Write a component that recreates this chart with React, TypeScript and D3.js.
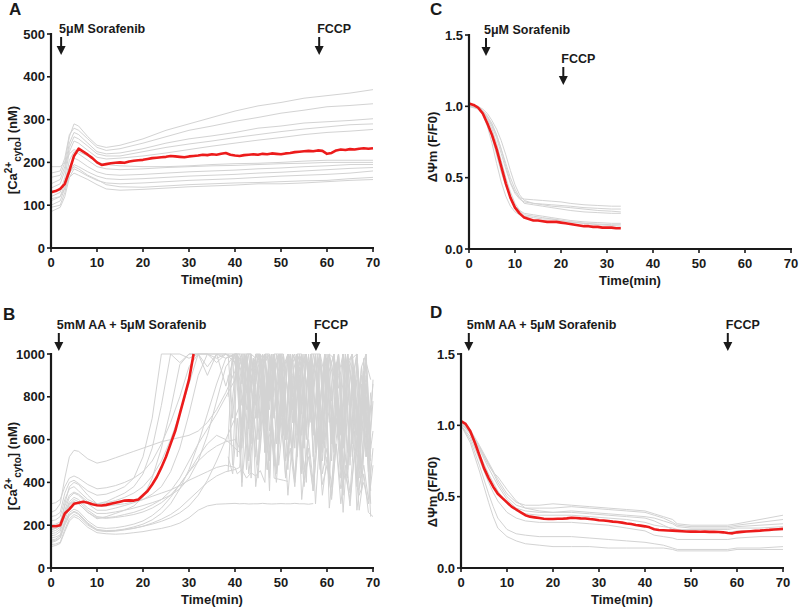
import * as d3 from 'd3';
import React from 'react';

const FONT = '"Liberation Sans", Arial, Helvetica, sans-serif';
const GRAY = '#d3d3d3';
const RED = '#ec1b1b';
const INK = '#1a1a1a';

// ---------- Panel A : cytosolic Ca2+, 5uM sorafenib ----------
const minutesA = d3.range(0, 71);
const meanA = [
  130, 133, 138, 150, 180, 215, 232, 225, 218, 210, 200, 194, 196, 198, 199, 200, 199, 202, 204, 205,
  206, 208, 210, 211, 212, 213, 215, 214, 213, 212, 214, 215, 216, 218, 217, 219, 218, 220, 222, 218,
  216, 215, 217, 218, 219, 218, 220, 219, 221, 220, 219, 221, 222, 224, 225, 226, 227, 226, 228, 227,
  220, 222, 228, 230, 229, 231, 230, 232, 233, 232, 233,
];
const timesA = [0, 2, 3, 4, 5, 6, 8, 10, 12, 15, 20, 25, 30, 35, 40, 45, 50, 55, 60, 65, 70];
const cellsA = [
  [165, 170, 200, 260, 290, 285, 260, 240, 235, 240, 255, 275, 290, 305, 320, 332, 340, 350, 356, 362, 370],
  [175, 180, 210, 265, 280, 275, 255, 235, 228, 232, 245, 260, 275, 285, 296, 305, 315, 322, 330, 333, 337],
  [150, 160, 190, 245, 270, 265, 245, 225, 220, 222, 232, 245, 255, 262, 270, 280, 285, 292, 295, 298, 302],
  [140, 150, 180, 235, 260, 255, 238, 220, 215, 215, 225, 235, 243, 250, 258, 265, 272, 278, 283, 288, 290],
  [120, 130, 165, 225, 250, 245, 228, 212, 208, 210, 215, 222, 230, 238, 245, 252, 258, 265, 270, 273, 277],
  [190, 190, 200, 220, 230, 225, 215, 200, 195, 192, 190, 190, 192, 195, 197, 198, 200, 203, 205, 205, 205],
  [110, 120, 150, 205, 225, 220, 205, 190, 185, 183, 185, 188, 190, 192, 193, 195, 197, 198, 200, 200, 200],
  [100, 110, 140, 190, 210, 205, 190, 178, 172, 170, 172, 175, 178, 180, 182, 185, 187, 190, 192, 195, 195],
  [95, 100, 130, 175, 195, 190, 178, 168, 162, 160, 162, 165, 168, 170, 172, 175, 177, 180, 183, 186, 188],
  [85, 95, 120, 165, 185, 180, 168, 158, 152, 150, 152, 155, 158, 160, 162, 165, 168, 170, 172, 175, 180],
  [130, 135, 150, 175, 190, 185, 170, 160, 148, 143, 142, 145, 148, 150, 152, 153, 155, 157, 158, 162, 165],
  [115, 120, 140, 165, 175, 170, 160, 148, 138, 135, 137, 140, 143, 145, 147, 150, 150, 152, 155, 158, 160],
];

// ---------- Panel B : cytosolic Ca2+, 5mM AA + 5uM sorafenib ----------
const minutesB = d3.range(0, 32);
const meanB = [
  195, 195, 200, 255, 275, 300, 305, 310, 305, 298, 293, 292, 295, 300, 305, 310, 315, 316, 315, 320,
  340, 360, 390, 425, 470, 520, 580, 640, 720, 800, 880, 1000,
];
const timesB = [
  0, 1, 2, 3, 4, 5, 6, 8, 10, 12, 14, 16, 18, 20, 22, 24, 26, 28, 30, 32, 34, 36, 38, 40,
  41, 42, 43, 44, 45, 46, 47, 48, 49, 50, 51, 52, 53, 54, 55, 56, 57, 58, 59, 60, 61, 62, 63, 64, 65, 66, 67, 68, 69, 70,
];
const timesBHalf = [
  0, 1, 2, 3, 4, 5, 6, 8, 10, 12, 14, 16, 18, 20, 22, 24, 26, 28, 30, 32, 34, 36, 38, 40,
  40.5, 41.5, 42.5, 43.5, 44.5, 45.5, 46.5, 47.5, 48.5, 49.5, 50.5, 51.5, 52.5, 53.5, 54.5, 55.5, 56.5, 57.5, 58.5, 59.5,
  60.5, 61.5, 62.5, 63.5, 64.5, 65.5, 66.5, 67.5, 68.5, 69.5,
];
const cellsB = [
  [180, 185, 200, 300, 380, 400, 390, 340, 300, 310, 330, 350, 380, 440, 560, 760, 1000, 1000, 980, 1000, 900, 1000, 850, 1000,
    700, 1000, 650, 980, 600, 1000, 720, 950, 580, 1000, 640, 990, 560, 1000, 700, 960, 520, 1000, 600, 980, 500, 940, 620, 1000, 480, 900, 560, 980, 450, 880],
  [130, 135, 150, 220, 290, 310, 300, 260, 230, 240, 255, 270, 290, 330, 420, 560, 740, 950, 1000, 1000, 1000, 960, 1000, 1000,
    1000, 620, 1000, 580, 940, 1000, 680, 1000, 540, 900, 1000, 600, 1000, 520, 960, 1000, 700, 1000, 480, 1000, 880, 560, 1000, 460, 940, 1000, 540, 820, 1000, 420],
  [220, 225, 240, 320, 370, 380, 360, 320, 300, 305, 315, 330, 350, 380, 430, 500, 600, 720, 860, 1000, 1000, 980, 1000, 960,
    820, 1000, 760, 980, 700, 1000, 640, 1000, 720, 960, 600, 1000, 680, 940, 560, 1000, 620, 900, 540, 980, 600, 880, 500, 960, 520, 840, 460, 900, 500, 780],
  [260, 270, 300, 420, 520, 550, 545, 510, 490, 500, 515, 530, 545, 560, 575, 590, 600, 610, 620, 640, 680, 740, 820, 920,
    1000, 760, 1000, 700, 980, 820, 1000, 640, 960, 1000, 720, 1000, 680, 900, 1000, 620, 980, 740, 1000, 560, 920, 1000, 640, 880, 1000, 580, 960, 700, 900, 620],
  [100, 105, 115, 170, 220, 240, 230, 190, 165, 160, 158, 160, 165, 170, 178, 185, 195, 210, 235, 270, 290, 298, 300, 302,
    300, 301, 299, 300, 300, 302, 300, 299, 300, 301, 300, 300, 302, 300, 300, 298, 301],
  [150, 155, 170, 240, 300, 320, 310, 270, 240, 235, 240, 250, 260, 275, 295, 320, 360, 420, 500, 580, 650, 720, 800, 880,
    960, 1000, 820, 1000, 700, 960, 1000, 780, 1000, 660, 920, 1000, 740, 1000, 620, 980, 820, 1000, 580, 940, 1000, 660, 900, 1000, 540, 880, 1000, 600, 860, 520],
  [120, 125, 140, 210, 260, 275, 265, 220, 190, 185, 188, 195, 205, 220, 245, 280, 330, 390, 450, 500, 540, 570, 590, 600,
    560, 880, 520, 760, 480, 920, 540, 700, 450, 860, 500, 640, 420, 800, 460, 600, 400, 760, 440, 560, 380, 700, 420, 520, 350, 640, 380, 480, 320, 560],
  [200, 205, 215, 290, 340, 355, 345, 310, 290, 290, 295, 300, 310, 320, 335, 350, 365, 385, 410, 430, 450, 470, 480, 470,
    440, 460, 420, 445, 430, 455, 400, 1000, 420, 415, 410, 405],
  [170, 175, 190, 260, 310, 330, 320, 280, 255, 255, 262, 270, 280, 292, 305, 320, 340, 370, 420, 500, 620, 780, 940, 1000,
    1000, 880, 1000, 760, 1000, 940, 680, 1000, 820, 1000, 600, 960, 1000, 740, 1000, 660, 1000, 900, 580, 1000, 780, 960, 520, 1000, 700, 940, 480, 920, 640, 860],
  [240, 245, 260, 350, 400, 410, 395, 360, 340, 345, 360, 380, 420, 520, 700, 1000, 1000, 960, 1000, 1000, 940, 1000, 1000, 980,
    1000, 900, 1000, 1000, 860, 1000, 960, 1000, 880, 1000, 1000, 820, 1000, 940, 1000, 860, 1000, 1000, 780, 1000, 920, 1000, 840, 1000, 760, 980, 1000, 700, 960, 880],
  [110, 112, 120, 180, 230, 250, 240, 200, 175, 170, 172, 178, 185, 195, 210, 228, 250, 280, 320, 360, 400, 430, 450, 460,
    470, 700, 440, 640, 420, 760, 460, 600, 400, 700, 430, 560, 380, 660, 410, 520, 360, 620, 390, 480, 340, 580, 370, 440, 320, 540, 340, 400, 300, 480],
  [160, 165, 180, 270, 330, 350, 340, 300, 270, 270, 280, 292, 305, 320, 345, 380, 450, 560, 720, 900, 1000, 1000, 1000, 960,
    1000, 1000, 740, 1000, 980, 860, 1000, 1000, 700, 1000, 940, 1000, 800, 1000, 1000, 660, 1000, 900, 1000, 760, 1000, 980, 620, 1000, 880, 1000, 720, 940, 1000, 600],
  [140, 145, 155, 210, 250, 265, 255, 210, 180, 175, 176, 180, 186, 195, 205, 218, 235, 258, 290, 340, 410, 500, 600, 700,
    760, 820, 880, 960, 1000, 900, 1000, 760, 1000, 840, 620, 1000, 700, 900, 560, 960, 640, 820, 500, 900, 580, 760, 460, 840, 520, 700, 420, 780, 480, 640],
  [300, 305, 320, 380, 420, 430, 420, 390, 370, 375, 385, 400, 420, 450, 500, 580, 680, 800, 940, 1000, 1000, 1000, 980, 1000,
    900, 1000, 1000, 820, 1000, 960, 1000, 740, 1000, 1000, 880, 1000, 680, 1000, 940, 1000, 800, 1000, 1000, 720, 1000, 900, 1000, 640, 1000, 860, 1000, 700, 980, 560],
  [180, 185, 195, 260, 300, 310, 300, 260, 235, 232, 236, 242, 250, 262, 280, 305, 340, 390, 450, 520, 580, 620, 600, 560,
    540, 800, 500, 720, 480, 840, 460, 680, 440, 760, 420, 620, 400, 700, 380, 560, 360, 640, 340, 520, 320, 580, 300, 480, 290, 540, 270, 440, 260, 240],
  [125, 130, 140, 200, 245, 262, 250, 205, 178, 172, 175, 182, 192, 205, 225, 255, 300, 370, 460, 580, 720, 860, 980, 1000,
    1000, 940, 1000, 840, 1000, 1000, 720, 1000, 900, 1000, 640, 1000, 960, 1000, 780, 1000, 700, 920, 1000, 600, 1000, 840, 1000, 560, 960, 1000, 680, 900, 520, 820],
];
// cells whose recordings only appear from ~38 min (already saturated)
const timesBLate = [
  38.5, 39.5, 40.5, 41.5, 42.5, 43.5, 44.5, 45.5, 46.5, 47.5, 48.5, 49.5, 50.5, 51.5, 52.5, 53.5,
  54.5, 55.5, 56.5, 57.5, 58.5, 59.5, 60.5, 61.5, 62.5, 63.5, 64.5, 65.5, 66.5, 67.5, 68.5, 69.5,
];
const lateCellsB = [
  [600, 1000, 520, 980, 460, 1000, 700, 940, 540, 1000, 480, 900, 620, 1000, 560, 960, 440, 1000, 680, 920, 500, 1000, 420, 880, 600, 1000, 460, 940, 380, 860, 520, 760],
  [900, 480, 1000, 560, 1000, 420, 960, 640, 1000, 500, 1000, 580, 880, 460, 1000, 620, 1000, 400, 940, 540, 1000, 480, 860, 600, 1000, 380, 920, 520, 980, 440, 800, 360],
  [450, 800, 1000, 380, 1000, 720, 520, 1000, 860, 420, 1000, 640, 980, 500, 900, 1000, 460, 840, 1000, 560, 760, 1000, 400, 960, 700, 340, 1000, 620, 880, 360, 720, 300],
  [1000, 700, 1000, 860, 1000, 640, 1000, 940, 780, 1000, 700, 1000, 880, 640, 1000, 960, 720, 1000, 820, 600, 1000, 900, 680, 1000, 760, 560, 980, 840, 620, 940, 700, 500],
  [520, 440, 700, 400, 620, 900, 380, 560, 820, 360, 1000, 480, 700, 340, 600, 880, 320, 540, 760, 300, 640, 900, 280, 500, 700, 260, 580, 820, 270, 460, 640, 240],
  [800, 1000, 900, 620, 1000, 1000, 760, 1000, 540, 900, 1000, 680, 1000, 820, 500, 1000, 940, 600, 1000, 720, 460, 980, 860, 540, 1000, 640, 420, 900, 760, 480, 860, 560],
];

// ---------- Panel C : mito potential, 5uM sorafenib ----------
const minutesC = d3.range(0, 34);
const meanC = [
  1.02, 1.01, 0.99, 0.95, 0.88, 0.8, 0.7, 0.58, 0.46, 0.36, 0.29, 0.25, 0.22, 0.21, 0.2, 0.2, 0.195,
  0.19, 0.19, 0.19, 0.185, 0.18, 0.175, 0.17, 0.165, 0.16, 0.16, 0.155, 0.155, 0.15, 0.15, 0.15, 0.145, 0.145,
];
const timesC = [0, 2, 3, 4, 5, 6, 7, 8, 9, 10, 11, 12, 14, 16, 18, 20, 22, 25, 28, 31, 33];
const cellsC = [
  [1.0, 1.0, 0.97, 0.93, 0.88, 0.8, 0.7, 0.58, 0.47, 0.4, 0.36, 0.35, 0.345, 0.34, 0.335, 0.33, 0.32, 0.31, 0.305, 0.3, 0.3],
  [1.0, 0.99, 0.96, 0.92, 0.86, 0.78, 0.67, 0.56, 0.46, 0.39, 0.35, 0.33, 0.32, 0.315, 0.31, 0.305, 0.3, 0.29, 0.285, 0.28, 0.28],
  [1.01, 1.0, 0.97, 0.93, 0.87, 0.8, 0.7, 0.6, 0.5, 0.42, 0.36, 0.32, 0.31, 0.3, 0.29, 0.28, 0.27, 0.26, 0.255, 0.25, 0.25],
  [1.0, 0.99, 0.95, 0.88, 0.78, 0.66, 0.54, 0.44, 0.36, 0.3, 0.27, 0.25, 0.24, 0.23, 0.22, 0.21, 0.2, 0.19, 0.185, 0.18, 0.18],
  [1.0, 0.98, 0.94, 0.86, 0.74, 0.6, 0.47, 0.37, 0.3, 0.26, 0.24, 0.23, 0.22, 0.21, 0.21, 0.2, 0.19, 0.18, 0.175, 0.17, 0.17],
  [1.0, 0.99, 0.96, 0.91, 0.84, 0.74, 0.62, 0.5, 0.4, 0.32, 0.27, 0.24, 0.23, 0.22, 0.21, 0.2, 0.19, 0.18, 0.17, 0.165, 0.16],
  [1.02, 1.0, 0.98, 0.95, 0.9, 0.84, 0.76, 0.66, 0.55, 0.45, 0.38, 0.34, 0.32, 0.31, 0.3, 0.295, 0.29, 0.28, 0.27, 0.265, 0.26],
];

// ---------- Panel D : mito potential, 5mM AA + 5uM sorafenib ----------
const minutesD = d3.range(0, 71);
const meanD = [
  1.03, 1.01, 0.96, 0.88, 0.79, 0.7, 0.63, 0.57, 0.52, 0.49, 0.46, 0.43, 0.41, 0.39, 0.37, 0.36, 0.355,
  0.35, 0.345, 0.343, 0.343, 0.345, 0.345, 0.348, 0.352, 0.35, 0.348, 0.347, 0.343, 0.34, 0.335, 0.333,
  0.33, 0.325, 0.322, 0.318, 0.312, 0.308, 0.302, 0.297, 0.292, 0.285, 0.272, 0.266, 0.265, 0.263, 0.262,
  0.26, 0.258, 0.256, 0.255, 0.256, 0.254, 0.255, 0.253, 0.254, 0.252, 0.25, 0.245, 0.243, 0.25, 0.253,
  0.256, 0.258, 0.26, 0.262, 0.265, 0.267, 0.27, 0.272, 0.274,
];
const timesD = [0, 2, 4, 6, 7, 8, 10, 12, 14, 17, 20, 24, 28, 32, 36, 40, 42, 44, 46, 47, 50, 55, 58, 60, 65, 70];
const cellsD = [
  [1.03, 0.97, 0.86, 0.74, 0.68, 0.62, 0.52, 0.46, 0.44, 0.44, 0.45, 0.44, 0.43, 0.42, 0.41, 0.4, 0.38, 0.36, 0.34, 0.31, 0.3, 0.3, 0.3, 0.31, 0.34, 0.37],
  [1.02, 0.96, 0.85, 0.73, 0.67, 0.6, 0.5, 0.44, 0.42, 0.42, 0.42, 0.43, 0.42, 0.41, 0.4, 0.39, 0.37, 0.35, 0.32, 0.3, 0.29, 0.29, 0.29, 0.3, 0.32, 0.34],
  [1.02, 0.95, 0.83, 0.7, 0.64, 0.58, 0.48, 0.42, 0.4, 0.39, 0.39, 0.4, 0.39, 0.38, 0.37, 0.36, 0.35, 0.33, 0.31, 0.29, 0.28, 0.28, 0.28, 0.29, 0.3, 0.31],
  [1.01, 0.94, 0.8, 0.66, 0.6, 0.54, 0.45, 0.4, 0.38, 0.37, 0.37, 0.37, 0.36, 0.35, 0.34, 0.32, 0.3, 0.29, 0.28, 0.27, 0.27, 0.27, 0.27, 0.28, 0.28, 0.29],
  [1.0, 0.92, 0.76, 0.6, 0.53, 0.47, 0.39, 0.35, 0.33, 0.32, 0.32, 0.32, 0.31, 0.3, 0.28, 0.26, 0.23, 0.22, 0.21, 0.2, 0.2, 0.2, 0.2, 0.21, 0.22, 0.22],
  [1.0, 0.9, 0.72, 0.52, 0.43, 0.35, 0.27, 0.24, 0.23, 0.22, 0.22, 0.22, 0.21, 0.2, 0.19, 0.18, 0.17, 0.16, 0.14, 0.13, 0.13, 0.13, 0.13, 0.14, 0.14, 0.15],
  [1.0, 0.88, 0.68, 0.46, 0.36, 0.28, 0.22, 0.19, 0.17, 0.16, 0.15, 0.15, 0.15, 0.14, 0.14, 0.14, 0.14, 0.14, 0.13, 0.12, 0.12, 0.12, 0.12, 0.13, 0.13, 0.13],
  [1.01, 0.95, 0.84, 0.72, 0.67, 0.64, 0.55, 0.47, 0.42, 0.4, 0.39, 0.39, 0.38, 0.37, 0.36, 0.35, 0.33, 0.3, 0.27, 0.26, 0.25, 0.25, 0.25, 0.26, 0.26, 0.27],
];

// additions (time in min) and their labels
const eventsA = [2.2, 58.3];
const eventsB = [1.7, 57.6];
const eventsC = [3.7, 20.5];
const eventsD = [1.7, 58];
const labelsA = ['5\u03bcM Sorafenib', 'FCCP'];
const labelsB = ['5mM AA + 5\u03bcM Sorafenib', 'FCCP'];
const labelsC = ['5\u03bcM Sorafenib', 'FCCP'];
const labelsD = ['5mM AA + 5\u03bcM Sorafenib', 'FCCP'];

const xTicks = [0, 10, 20, 30, 40, 50, 60, 70];
const caTicksA = [0, 100, 200, 300, 400, 500];
const caTicksB = [0, 200, 400, 600, 800, 1000];
const psiTicks = [0, 0.5, 1.0, 1.5];

type Pt = [number, number];

interface PanelProps {
  letter: string;
  letterPos: Pt;
  box: { x0: number; x1: number; top: number; bot: number };
  yMax: number;
  yTicks: number[];
  yFmt: (v: number) => string;
  yLabel: React.ReactNode;
  yLabelPos: Pt;
  grids: number[][];
  cells: number[][];
  meanTimes: number[];
  mean: number[];
  events: number[];
  labels: string[];
  arrowTops: number[];
}

function Arrow({ x, top }: { x: number; top: number }) {
  const len = 18;
  return (
    <g>
      <line x1={x} x2={x} y1={top} y2={top + len - 7} stroke={INK} strokeWidth={2} />
      <path d={`M${x - 4.5},${top + len - 9} L${x + 4.5},${top + len - 9} L${x},${top + len} Z`} fill={INK} />
    </g>
  );
}

function Panel(p: PanelProps) {
  const { x0, x1, top, bot } = p.box;
  const x = d3.scaleLinear().domain([0, 70]).range([x0, x1]);
  const y = d3.scaleLinear().domain([0, p.yMax]).range([bot, top]);
  const line = d3.line<Pt>().x((d) => x(d[0])).y((d) => y(d[1]));
  const pts = (ts: number[], vs: number[]): Pt[] => vs.map((v, i) => [ts[i], v] as Pt);

  return (
    <g fontFamily={FONT} fontWeight="bold" fill={INK}>
      <text x={p.letterPos[0]} y={p.letterPos[1]} fontSize={17}>{p.letter}</text>

      <g fill="none" stroke={GRAY} strokeWidth={1} strokeLinejoin="round">
        {p.cells.map((c, i) => (
          <path key={i} d={line(pts(p.grids[i], c)) || ''} />
        ))}
      </g>
      <path d={line(pts(p.meanTimes, p.mean)) || ''} fill="none" stroke={RED} strokeWidth={2.6} strokeLinejoin="round" />

      {/* axes */}
      <line x1={x0} x2={x0} y1={top - 1} y2={bot + 1} stroke={INK} strokeWidth={2.2} />
      <line x1={x0 - 1} x2={x1 + 1} y1={bot} y2={bot} stroke={INK} strokeWidth={2.2} />
      {p.yTicks.map((t) => (
        <g key={'y' + t}>
          <line x1={x0 - 4} x2={x0} y1={y(t)} y2={y(t)} stroke={INK} strokeWidth={1.6} />
          <text x={x0 - 6} y={y(t)} dy="0.36em" textAnchor="end" fontSize={13}>{p.yFmt(t)}</text>
        </g>
      ))}
      {xTicks.map((t) => (
        <g key={'x' + t}>
          <line x1={x(t)} x2={x(t)} y1={bot} y2={bot + 4} stroke={INK} strokeWidth={1.6} />
          <text x={x(t)} y={bot + 19} textAnchor="middle" fontSize={13}>{t}</text>
        </g>
      ))}
      <text x={(x0 + x1) / 2} y={bot + 36} textAnchor="middle" fontSize={13}>Time(min)</text>
      <text transform={`translate(${p.yLabelPos[0]},${p.yLabelPos[1]}) rotate(-90)`} textAnchor="middle" fontSize={13}>
        {p.yLabel}
      </text>

      {p.events.map((t, i) => (
        <g key={'e' + i}>
          <text x={x(t) - 2} y={p.arrowTops[i] - 4} fontSize={12.5}>{p.labels[i]}</text>
          <Arrow x={x(t)} top={p.arrowTops[i]} />
        </g>
      ))}
    </g>
  );
}

const caLabel = (
  <>
    [Ca<tspan fontSize={10} dy={-5}>2+</tspan>
    <tspan fontSize={10} dy={9}>cyto</tspan>
    <tspan dy={-4}>] (nM)</tspan>
  </>
);
const psiLabel = <>{'\u0394\u03a8m (F/F0)'}</>;

const gridsA = cellsA.map(() => timesA);
const gridsB = cellsB.map((_, i) => (i % 2 ? timesBHalf : timesB)).concat(lateCellsB.map(() => timesBLate));
const allCellsB = cellsB.concat(lateCellsB);
const gridsC = cellsC.map(() => timesC);
const gridsD = cellsD.map(() => timesD);

export default function App() {
  return (
    <div style={{ position: 'absolute', left: 0, top: 0 }}>
      <svg width={800} height={611} viewBox="0 0 800 611" style={{ display: 'block', background: '#fff' }}>
        <Panel
          letter="A" letterPos={[9, 15]}
          box={{ x0: 51, x1: 373, top: 34, bot: 248 }}
          yMax={500} yTicks={caTicksA} yFmt={(v) => String(v)}
          yLabel={caLabel} yLabelPos={[17, 150]}
          grids={gridsA} cells={cellsA} meanTimes={minutesA} mean={meanA}
          events={eventsA} labels={labelsA} arrowTops={[37, 37]}
        />
        <Panel
          letter="B" letterPos={[3, 320]}
          box={{ x0: 51, x1: 373, top: 354, bot: 568 }}
          yMax={1000} yTicks={caTicksB} yFmt={(v) => String(v)}
          yLabel={caLabel} yLabelPos={[17, 466]}
          grids={gridsB} cells={allCellsB} meanTimes={minutesB} mean={meanB}
          events={eventsB} labels={labelsB} arrowTops={[333, 333]}
        />
        <Panel
          letter="C" letterPos={[430, 15]}
          box={{ x0: 469, x1: 791, top: 35, bot: 249 }}
          yMax={1.5} yTicks={psiTicks} yFmt={(v) => v.toFixed(1)}
          yLabel={psiLabel} yLabelPos={[437, 147]}
          grids={gridsC} cells={cellsC} meanTimes={minutesC} mean={meanC}
          events={eventsC} labels={labelsC} arrowTops={[38, 67]}
        />
        <Panel
          letter="D" letterPos={[430, 318]}
          box={{ x0: 461, x1: 783, top: 354, bot: 568 }}
          yMax={1.5} yTicks={psiTicks} yFmt={(v) => v.toFixed(1)}
          yLabel={psiLabel} yLabelPos={[437, 492]}
          grids={gridsD} cells={cellsD} meanTimes={minutesD} mean={meanD}
          events={eventsD} labels={labelsD} arrowTops={[333, 333]}
        />
      </svg>
    </div>
  );
}
